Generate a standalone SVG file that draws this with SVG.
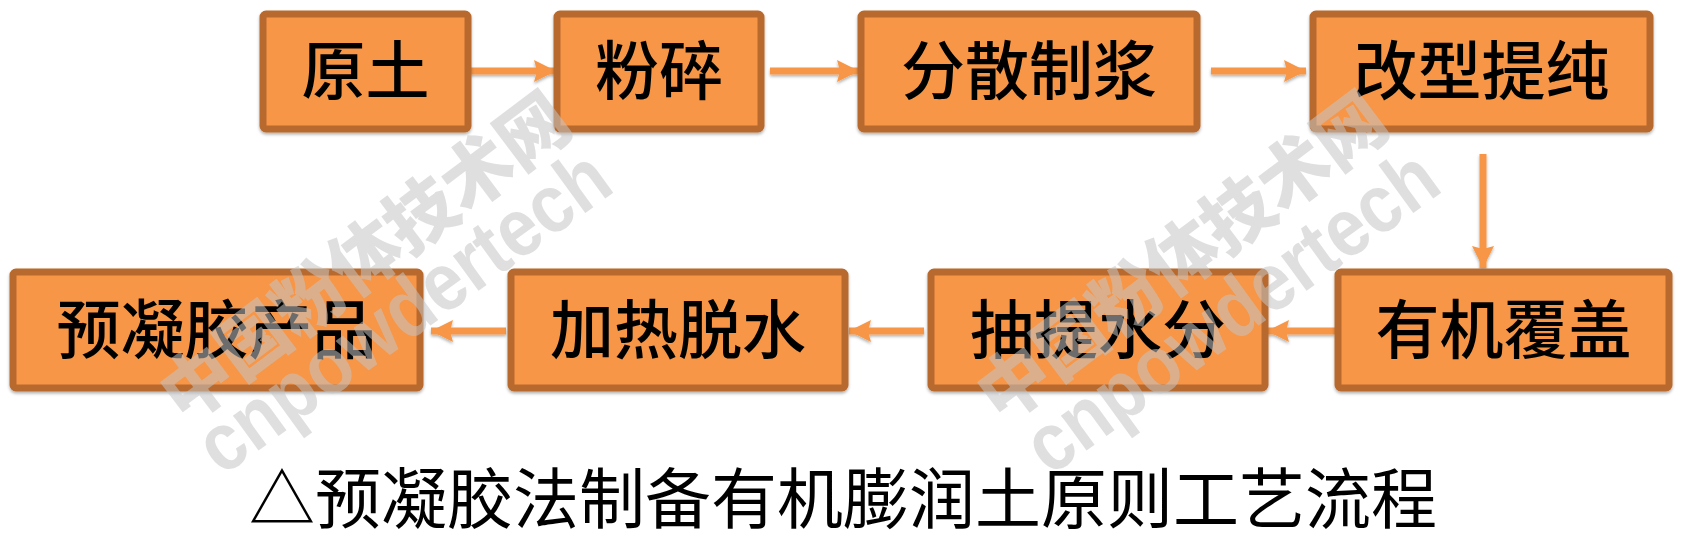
<svg xmlns="http://www.w3.org/2000/svg" width="1688" height="539" viewBox="0 0 1688 539">
<style>
.box rect{fill:#f79646;stroke:#b8692e;stroke-width:7;}
.box text{font-family:"Noto Sans CJK SC","Noto Sans CJK TC",sans-serif;font-size:64px;font-weight:500;fill:#000;text-anchor:middle;}
.conn line{stroke:#f79646;stroke-width:7;marker-end:url(#ah);}
.wm text{font-weight:900;fill:#c4c4c4;fill-opacity:0.55;}
.wm .zh{font-family:"Noto Sans CJK SC",sans-serif;font-size:72px;}
.wm .en{font-family:"Liberation Sans","Noto Sans",sans-serif;font-size:82px;}
.cap{font-family:"Noto Sans CJK SC","Noto Sans CJK TC",sans-serif;font-size:66px;fill:#000;text-anchor:middle;}
</style>
<defs>
<marker id="ah" markerUnits="userSpaceOnUse" markerWidth="24" markerHeight="24" refX="22" refY="11" orient="auto">
<path d="M0,0 L22,11 L0,22 L3,11 z" fill="#f79646"/>
</marker>
<filter id="sh" x="-10%" y="-30%" width="120%" height="160%">
<feDropShadow dx="0" dy="2" stdDeviation="1.5" flood-color="#000" flood-opacity="0.3"/>
</filter>
</defs>
<rect width="1688" height="539" fill="#fff"/>
<g id="connectors" class="conn" filter="url(#sh)">
<line x1="470" y1="71" x2="556" y2="71"/>
<line x1="770" y1="71" x2="859" y2="71"/>
<line x1="1211" y1="71" x2="1306" y2="71"/>
<line x1="1483" y1="154" x2="1483" y2="268"/>
<line x1="1335" y1="331" x2="1267" y2="331"/>
<line x1="924" y1="331" x2="849" y2="331"/>
<line x1="506" y1="331" x2="431" y2="331"/>
</g>
<g id="n1" class="box" filter="url(#sh)"><rect x="263" y="14" width="205" height="115" rx="3"/><text x="365.5" y="94">原土</text></g>
<g id="n2" class="box" filter="url(#sh)"><rect x="557" y="14" width="204" height="115" rx="3"/><text x="659" y="94">粉碎</text></g>
<g id="n3" class="box" filter="url(#sh)"><rect x="861" y="14" width="336" height="115" rx="3"/><text x="1029" y="94">分散制浆</text></g>
<g id="n4" class="box" filter="url(#sh)"><rect x="1313" y="14" width="337" height="115" rx="3"/><text x="1481.5" y="94">改型提纯</text></g>
<g id="n5" class="box" filter="url(#sh)"><rect x="1338" y="272" width="331" height="116" rx="3"/><text x="1503.5" y="353">有机覆盖</text></g>
<g id="n6" class="box" filter="url(#sh)"><rect x="931" y="272" width="334" height="116" rx="3"/><text x="1098" y="353">抽提水分</text></g>
<g id="n7" class="box" filter="url(#sh)"><rect x="511" y="272" width="334" height="116" rx="3"/><text x="678" y="353">加热脱水</text></g>
<g id="n8" class="box" filter="url(#sh)"><rect x="13" y="272" width="407" height="116" rx="3"/><text x="216.5" y="353">预凝胶产品</text></g>
<text class="cap" x="843" y="523">△预凝胶法制备有机膨润土原则工艺流程</text>
<g class="wm">
<text class="zh" transform="translate(185,425) rotate(-37)" textLength="490" lengthAdjust="spacingAndGlyphs">中国粉体技术网</text>
<text class="en" transform="translate(222,477) rotate(-36)" textLength="488" lengthAdjust="spacingAndGlyphs">cnpowdertech</text>
<text class="zh" transform="translate(1002,425) rotate(-37)" textLength="490" lengthAdjust="spacingAndGlyphs">中国粉体技术网</text>
<text class="en" transform="translate(1050,477) rotate(-36)" textLength="488" lengthAdjust="spacingAndGlyphs">cnpowdertech</text>
</g>
</svg>
